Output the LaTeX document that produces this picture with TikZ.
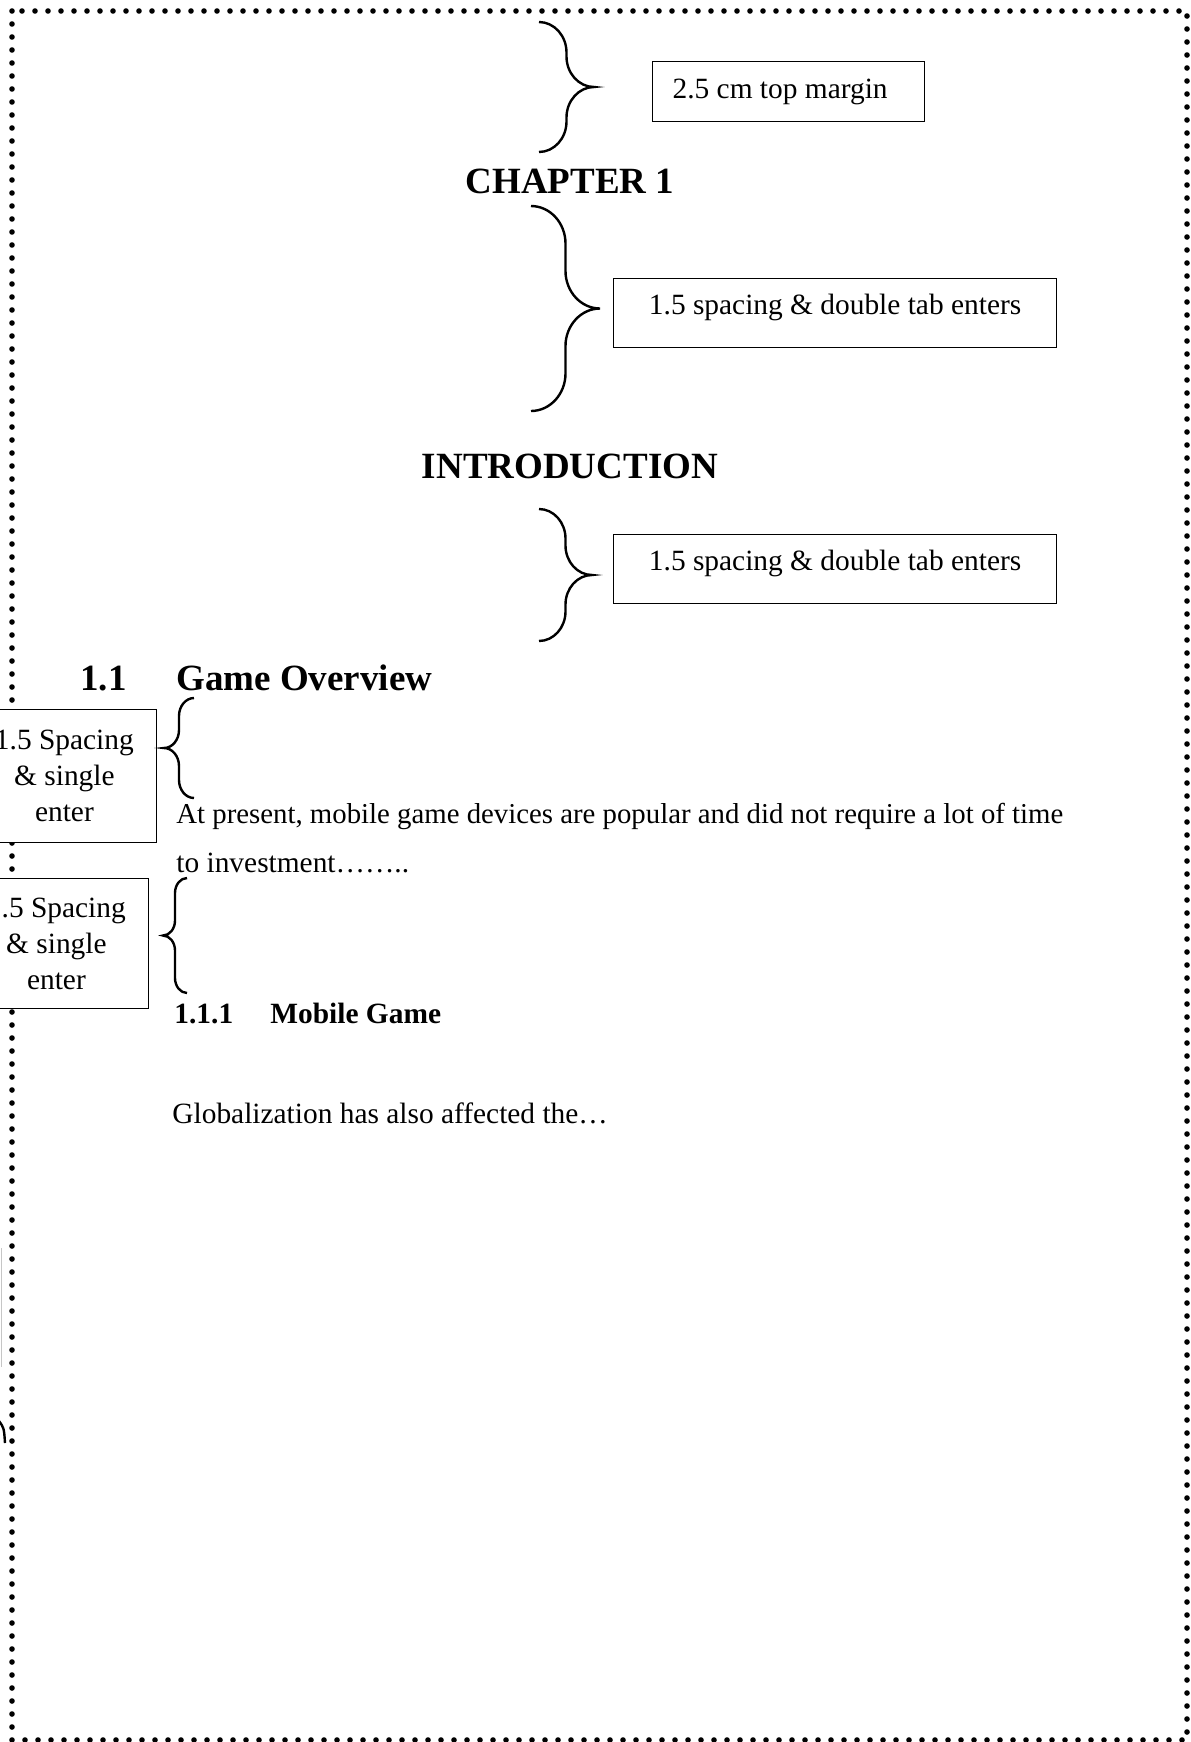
\documentclass[tikz,border=0pt]{standalone}
\usepackage{fontspec}
\setmainfont{Liberation Serif}
\usetikzlibrary{positioning}

% #1 x of the ends, #2 top, #3 bottom, #4 depth (minus opens to the right)
\newcommand{\sidebrace}[4]{%
  \pgfmathsetmacro\bmid{#1+#4/2}%
  \pgfmathsetmacro\btip{#1+#4}%
  \pgfmathsetmacro\bcen{(#2+#3)/2}%
  \pgfmathsetmacro\bcurl{abs(#4)/2+3}%
  \pgfmathsetmacro\bkx{0.55*#4/2}%
  \pgfmathsetmacro\bky{0.45*\bcurl}%
  \draw[Brace] (#1,#2) .. controls (#1+\bkx,#2) and (\bmid,#2+\bky) .. (\bmid,#2+\bcurl)
    -- (\bmid,\bcen-\bcurl) .. controls (\bmid,\bcen-\bky) and (\btip-\bkx,\bcen) .. (\btip,\bcen)
    .. controls (\btip-\bkx,\bcen) and (\bmid,\bcen+\bky) .. (\bmid,\bcen+\bcurl)
    -- (\bmid,#3-\bcurl) .. controls (\bmid,#3-\bky) and (#1+\bkx,#3) .. (#1,#3);%
}

\begin{document}
\begin{tikzpicture}
  [
    x=0.5pt, y=-0.5pt,
    Note/.style={draw, fill=white, line width=0.6pt, inner sep=0pt, align=center,
      font=\fontsize{14.7}{18}\selectfont},
    Head/.style={anchor=base west, inner sep=0pt, font=\fontsize{18.5}{22}\selectfont\bfseries},
    Sub/.style={anchor=base west, inner sep=0pt, font=\fontsize{14.7}{17}\selectfont\bfseries},
    Body/.style={anchor=base west, inner sep=0pt, font=\fontsize{14.7}{17}\selectfont},
    Brace/.style={line width=1.2pt},
    Frame/.style={line width=2.8pt, line cap=round, dash pattern=on 0pt off 6.5pt}
  ]
  \path[use as bounding box, clip] (0,0) rectangle (1190,1742);
  % Frame
  \draw[Frame] (12,11) rectangle (1187,1740);
  \draw[gray!45, line width=0.5pt] (1,1248) -- (1,1367);
  \draw[Brace] (-1,1421) .. controls (4,1428) .. (5,1443);
  % Headings and text
  \node[Head, anchor=base] (chapter) at (570,193) {CHAPTER 1};
  \node[Head, anchor=base] (intro) at (570,478) {INTRODUCTION};
  \node[Head] (secnum) at (80,690) {1.1};
  \node[Head] (sectitle) at (176,690) {Game Overview};
  \node[Body, font=\fontsize{14.4}{17}\selectfont] (para1) at (176,823) {At present, mobile game devices are popular and did not require a lot of time};
  \node[Body] (para2) at (176,872) {to investment……..};
  \node[Sub] (subnum) at (174,1023) {1.1.1};
  \node[Sub] (subtitle) at (270,1023) {Mobile Game};
  \node[Body] (para3) at (172,1123) {Globalization has also affected the…};
  % Notes
  \node[Note, anchor=north west, inner xsep=10pt, minimum height=30pt] (topmargin) at (652,61) {\makebox[116pt][l]{2.5 cm top margin}};
  \node[Note, anchor=north west, minimum width=221.5pt, minimum height=34.5pt, text depth=8.5pt] (chapgap) at (613,278) {1.5 spacing \& double tab enters};
  \node[Note, anchor=north west, minimum width=221.5pt, minimum height=34.5pt, text depth=8.5pt] (introgap) at (613,534) {1.5 spacing \& double tab enters};
  \node[Note, anchor=north east, minimum width=92pt, minimum height=66.5pt] (secgap) at (157,709) {1.5 Spacing\\\& single\\enter};
  \node[Note, anchor=north east, minimum width=92pt, minimum height=65pt] (subgap) at (149,878) {1.5 Spacing\\\& single\\enter};
  % Braces
  \sidebrace{539}{22}{152}{55}
  \sidebrace{531}{206}{411}{69}
  \sidebrace{539}{509}{641}{53}
  \sidebrace{194}{698}{798}{-30}
  \sidebrace{187}{878}{993}{-24}
\end{tikzpicture}
\end{document}
